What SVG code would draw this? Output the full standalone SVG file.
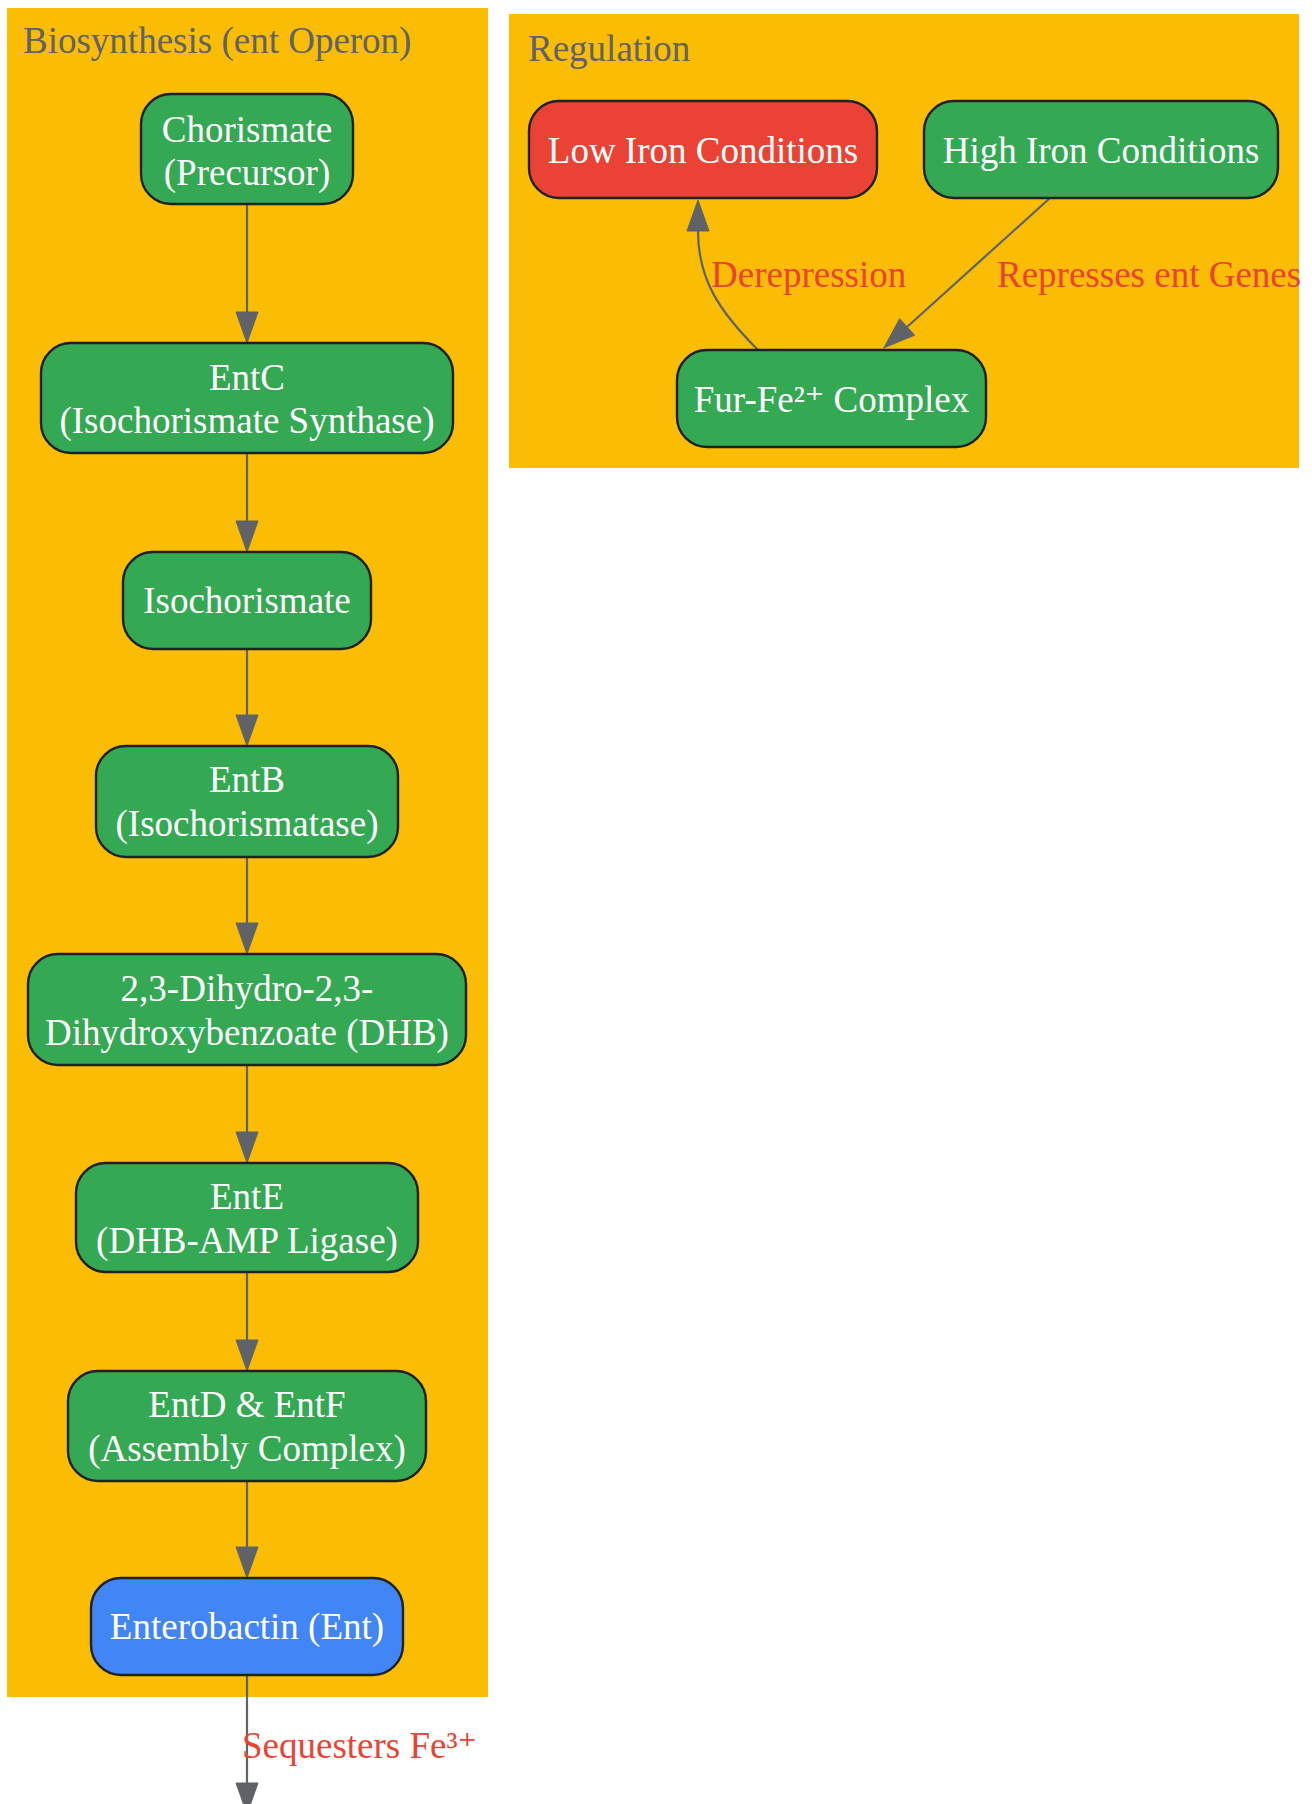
<svg xmlns="http://www.w3.org/2000/svg" width="1312" height="1804" viewBox="0 0 1312 1804">
<style>
  .cluster { fill: #FBBC04; stroke: none; }
  .ctitle { font-family: "Liberation Serif", "Times New Roman", serif; font-size: 37px; fill: #5F6368; }
  .node rect { stroke: #202124; stroke-width: 2.4; }
  .green { fill: #34A853; }
  .red { fill: #EA4335; }
  .blue { fill: #4285F4; }
  .node text { font-family: "Liberation Serif", "Times New Roman", serif; font-size: 37px; fill: #FFFFFF; text-anchor: middle; }
  .edge { fill: none; stroke: #5F6368; stroke-width: 2.2; marker-end: url(#arrow); }
  .elabel { font-family: "Liberation Serif", "Times New Roman", serif; font-size: 37px; fill: #EA4335; }
  .sup { font-family: "DejaVu Serif", serif; }
</style>
<defs>
  <marker id="arrow" markerUnits="userSpaceOnUse" markerWidth="32" markerHeight="24" refX="0" refY="11" orient="auto" viewBox="0 0 32 22" overflow="visible">
    <path d="M0,0 L31,11 L0,22 Z" fill="#5F6368" stroke="#5F6368" stroke-width="1"/>
  </marker>
</defs>
<rect width="1312" height="1804" fill="#FFFFFF"/>
<g id="cluster_biosynthesis">
  <rect class="cluster" x="7" y="8" width="481" height="1689"/>
  <text class="ctitle" x="23" y="53">Biosynthesis (ent Operon)</text>
</g>
<g id="cluster_regulation">
  <rect class="cluster" x="509" y="14" width="790" height="454"/>
  <text class="ctitle" x="528" y="61">Regulation</text>
</g>
<g id="connectors">
  <path class="edge" d="M247,204 V312"/>
  <path class="edge" d="M247,453 V521"/>
  <path class="edge" d="M247,649 V715"/>
  <path class="edge" d="M247,857 V923"/>
  <path class="edge" d="M247,1065 V1132"/>
  <path class="edge" d="M247,1272 V1340"/>
  <path class="edge" d="M247,1481 V1547"/>
  <path class="edge" d="M247,1675 V1783"/>
  <text class="elabel" x="242" y="1758">Sequesters Fe³<tspan class="sup">⁺</tspan></text>
  <path class="edge" d="M1050,198 L907,327"/>
  <text class="elabel" x="997" y="287">Represses ent Genes</text>
  <path class="edge" d="M758,350 C720,312 698,280 698,231"/>
  <text class="elabel" x="711" y="287">Derepression</text>
</g>
<g id="node_chorismate" class="node">
  <rect class="green" x="141" y="94" width="212" height="110" rx="30" ry="30"/>
  <text x="247" y="142">Chorismate</text>
  <text x="247" y="185">(Precursor)</text>
</g>
<g id="node_entc" class="node">
  <rect class="green" x="41" y="343" width="412" height="110" rx="30" ry="30"/>
  <text x="247" y="390">EntC</text>
  <text x="247" y="433">(Isochorismate Synthase)</text>
</g>
<g id="node_isochorismate" class="node">
  <rect class="green" x="123" y="552" width="248" height="97" rx="30" ry="30"/>
  <text x="247" y="613">Isochorismate</text>
</g>
<g id="node_entb" class="node">
  <rect class="green" x="96" y="746" width="302" height="111" rx="30" ry="30"/>
  <text x="247" y="792">EntB</text>
  <text x="247" y="836">(Isochorismatase)</text>
</g>
<g id="node_dhb" class="node">
  <rect class="green" x="28" y="954" width="438" height="111" rx="30" ry="30"/>
  <text x="247" y="1001">2,3-Dihydro-2,3-</text>
  <text x="247" y="1045">Dihydroxybenzoate (DHB)</text>
</g>
<g id="node_ente" class="node">
  <rect class="green" x="76" y="1163" width="342" height="109" rx="30" ry="30"/>
  <text x="247" y="1209">EntE</text>
  <text x="247" y="1253">(DHB-AMP Ligase)</text>
</g>
<g id="node_entdf" class="node">
  <rect class="green" x="68" y="1371" width="358" height="110" rx="30" ry="30"/>
  <text x="247" y="1417">EntD &amp; EntF</text>
  <text x="247" y="1461">(Assembly Complex)</text>
</g>
<g id="node_ent" class="node">
  <rect class="blue" x="91" y="1578" width="312" height="97" rx="30" ry="30"/>
  <text x="247" y="1639">Enterobactin (Ent)</text>
</g>
<g id="node_lowiron" class="node">
  <rect class="red" x="529" y="101" width="348" height="97" rx="30" ry="30"/>
  <text x="703" y="163">Low Iron Conditions</text>
</g>
<g id="node_highiron" class="node">
  <rect class="green" x="924" y="101" width="354" height="97" rx="30" ry="30"/>
  <text x="1101" y="163">High Iron Conditions</text>
</g>
<g id="node_fur" class="node">
  <rect class="green" x="677" y="350" width="309" height="97" rx="30" ry="30"/>
  <text x="831.5" y="412">Fur-Fe²<tspan class="sup">⁺</tspan> Complex</text>
</g>
</svg>
